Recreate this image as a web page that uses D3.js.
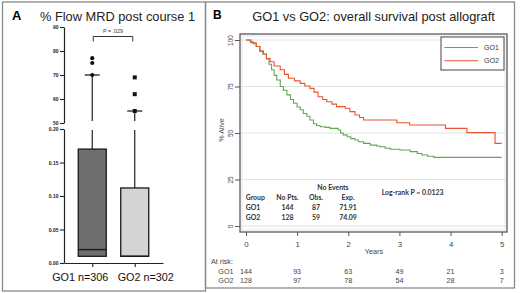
<!DOCTYPE html>
<html>
<head>
<script src="https://cdnjs.cloudflare.com/ajax/libs/d3/7.8.5/d3.min.js"></script>
<style>
  body { margin: 0; background: #fff; }
  svg { display: block; font-family: "Liberation Sans", Arial, sans-serif; }
  .tbl { font-family: Lato, "Open Sans", sans-serif; font-weight: 700; font-size: 6.9px; fill: #333; }
</style>
</head>
<body>
<svg id="chart" width="520" height="293"></svg>
<script>
// ---- Panel A data (box plot, broken y axis) ----
const boxCats = ['GO1 n=306', 'GO2 n=302'];
const boxQ1 = [0.01, 0.01];
const boxMed = [0.02, 0.01];
const boxQ3 = [0.17, 0.112];
const whiskerHi = [70, 55];
const outliers = [[70, 75, 77], [55, 62, 69]];
const boxFill = ['#6e6e6e', '#d4d4d4'];
const hiTicks = [50, 60, 70, 80, 90];
const loTicks = [0, 0.05, 0.10, 0.15, 0.20];

// ---- Panel B data (Kaplan-Meier) ----
const go1Time = [0, 0.08, 0.14, 0.2, 0.27, 0.33, 0.4, 0.45, 0.5, 0.55, 0.6, 0.67, 0.73, 0.8, 0.87, 0.93, 1.0, 1.06, 1.12, 1.19, 1.25, 1.32, 1.38, 1.45, 1.55, 1.64, 1.8, 1.85, 1.9, 1.98, 2.05, 2.13, 2.2, 2.3, 2.43, 2.56, 2.62, 2.72, 2.82, 3.01, 3.21, 3.35, 3.44, 3.55, 3.67, 5.0];
const go1Surv = [100, 99, 98, 96.5, 94, 92.5, 90, 87, 84, 81, 78.5, 75, 73, 70.5, 68, 66, 64, 62.5, 60.5, 59, 57, 55, 54, 53.4, 53, 52.5, 51.6, 50, 49, 48, 47, 46.2, 45.3, 44.4, 43.5, 43, 42.6, 41.8, 41.3, 40.9, 40, 39, 38.2, 37.5, 36.9, 36.9];
const go2Time = [0, 0.1, 0.2, 0.27, 0.34, 0.4, 0.47, 0.55, 0.67, 0.75, 0.83, 0.95, 1.06, 1.15, 1.25, 1.33, 1.41, 1.5, 1.58, 1.68, 1.77, 1.94, 2.03, 2.13, 2.22, 2.3, 2.95, 3.2, 3.9, 4.32, 4.87, 5.0];
const go2Surv = [100, 98.5, 96.5, 94, 92.3, 90, 88.3, 86, 84, 81.5, 79.4, 78, 76.7, 75.3, 74, 72, 69.5, 68, 66.8, 65.5, 64.2, 63.3, 61.5, 59.7, 58.3, 57, 55.5, 54.3, 52.5, 50.2, 44.4, 44.4];
const kmGroups = ['GO1', 'GO2'];
const kmColors = ['#67a35a', '#e8562e'];
const yearTicks = [0, 1, 2, 3, 4, 5];
const survTicks = [0, 25, 50, 75, 100];
const tblPts = [144, 128];
const tblObs = [87, 59];
const tblExp = ['71.91', '74.09'];
const riskGO1 = [144, 93, 63, 49, 21, 3];
const riskGO2 = [128, 97, 78, 54, 28, 7];

const svg = d3.select('#chart');
svg.append('rect').attr('width', 520).attr('height', 293).attr('fill', '#fff');

// panel borders
svg.append('rect').attr('x', 2.5).attr('y', 2).attr('width', 203).attr('height', 289)
  .attr('fill', 'none').attr('stroke', '#8a8a8a').attr('stroke-width', 1.3);
svg.append('rect').attr('x', 205.5).attr('y', 2).attr('width', 309).attr('height', 286)
  .attr('fill', 'none').attr('stroke', '#8a8a8a').attr('stroke-width', 1.3);

// ================= Panel A =================
const gA = svg.append('g');
gA.append('text').attr('x', 12).attr('y', 20).attr('font-weight', 700).attr('font-size', 13).text('A');
gA.append('text').attr('x', 117.5).attr('y', 21).attr('text-anchor', 'middle').attr('font-size', 12.8)
  .attr('fill', '#222').text('% Flow MRD post course 1');

const yHi = d3.scaleLinear().domain([50, 90]).range([123, 27]);
const yLo = d3.scaleLinear().domain([0, 0.2]).range([263, 129]);
const xA = d3.scalePoint().domain(boxCats).range([64, 163]).padding(0.665);

function styleAxisA(g) {
  g.select('.domain').attr('stroke', '#222').attr('stroke-width', 1.2);
  g.selectAll('.tick line').attr('stroke', '#222').attr('stroke-width', 1.1);
  g.selectAll('.tick text').attr('font-size', 5).attr('font-weight', 700).attr('fill', '#222');
}
gA.append('g').attr('transform', 'translate(64,0)')
  .call(d3.axisLeft(yHi).tickValues(hiTicks).tickSize(4).tickSizeOuter(0).tickPadding(1.5))
  .call(styleAxisA);
gA.append('g').attr('transform', 'translate(64,0)')
  .call(d3.axisLeft(yLo).tickValues(loTicks).tickSize(4).tickSizeOuter(0).tickPadding(1.5).tickFormat(d3.format('.2f')))
  .call(styleAxisA);
const xAxisA = gA.append('g').attr('transform', 'translate(0,263)')
  .call(d3.axisBottom(xA).tickSize(4).tickSizeOuter(0).tickFormat(''));
xAxisA.select('.domain').attr('stroke', '#222').attr('stroke-width', 1.2);
xAxisA.selectAll('.tick line').attr('stroke', '#222').attr('stroke-width', 1.1);
gA.selectAll('.catlab').data(boxCats).join('text')
  .attr('x', (d, i) => xA(d) + (i === 0 ? -12 : 11)).attr('y', 281)
  .attr('text-anchor', 'middle').attr('font-size', 10.8).attr('fill', '#111').text(d => d);

const boxW = 28;
boxCats.forEach((c, i) => {
  const cx = xA(c);
  // whisker: lower segment then upper segment across the break
  gA.append('line').attr('x1', cx).attr('x2', cx).attr('y1', yLo(boxQ3[i])).attr('y2', yLo(0.2) + 1)
    .attr('stroke', '#222').attr('stroke-width', 1.2);
  gA.append('line').attr('x1', cx).attr('x2', cx).attr('y1', yHi(50) - 2).attr('y2', yHi(whiskerHi[i]))
    .attr('stroke', '#222').attr('stroke-width', 1.2);
  gA.append('line').attr('x1', cx - 7.5).attr('x2', cx + 7.5).attr('y1', yHi(whiskerHi[i])).attr('y2', yHi(whiskerHi[i]))
    .attr('stroke', '#222').attr('stroke-width', 1.3);
  gA.append('rect').attr('x', cx - boxW / 2).attr('y', yLo(boxQ3[i]))
    .attr('width', boxW).attr('height', yLo(boxQ1[i]) - yLo(boxQ3[i]))
    .attr('fill', boxFill[i]).attr('stroke', '#1a1a1a').attr('stroke-width', 1.3);
  gA.append('line').attr('x1', cx - boxW / 2).attr('x2', cx + boxW / 2).attr('y1', yLo(boxMed[i])).attr('y2', yLo(boxMed[i]))
    .attr('stroke', '#1a1a1a').attr('stroke-width', 1.4);
  outliers[i].forEach(v => {
    if (i === 0) {
      gA.append('circle').attr('cx', cx).attr('cy', yHi(v)).attr('r', 2.1).attr('fill', '#111');
    } else {
      gA.append('rect').attr('x', cx - 2).attr('y', yHi(v) - 2).attr('width', 4).attr('height', 4).attr('fill', '#111');
    }
  });
});
// significance bracket
const bx1 = xA(boxCats[0]) + 1, bx2 = xA(boxCats[1]) - 2;
gA.append('path').attr('d', `M${bx1},41.5V36.5H${bx2}V41.5`).attr('fill', 'none').attr('stroke', '#333').attr('stroke-width', 1);
gA.append('text').attr('x', (bx1 + bx2) / 2).attr('y', 32.5).attr('text-anchor', 'middle')
  .attr('font-size', 5.3).attr('fill', '#333').text('P = .029');

// ================= Panel B =================
const gB = svg.append('g');
gB.append('text').attr('x', 213).attr('y', 19).attr('font-weight', 700).attr('font-size', 12).text('B');
gB.append('text').attr('x', 373.5).attr('y', 21).attr('text-anchor', 'middle').attr('font-size', 12.8)
  .attr('fill', '#222').text('GO1 vs GO2: overall survival post allograft');

const xB = d3.scaleLinear().domain([0, 5]).range([246, 501.7]);
const yB = d3.scaleLinear().domain([0, 100]).range([226, 40]);
const fx0 = 240, fx1 = 507, fy0 = 34, fy1 = 232;

gB.selectAll('.grid').data(survTicks).join('line')
  .attr('x1', fx0).attr('x2', fx1).attr('y1', d => yB(d)).attr('y2', d => yB(d))
  .attr('stroke', '#e2e2e2').attr('stroke-width', 1);
gB.append('rect').attr('x', fx0).attr('y', fy0).attr('width', fx1 - fx0).attr('height', fy1 - fy0)
  .attr('fill', 'none').attr('stroke', '#5a5a5a').attr('stroke-width', 1.3);
gB.append('rect').attr('x', fx0 + 2).attr('y', fy0 + 2).attr('width', fx1 - fx0 - 4).attr('height', fy1 - fy0 - 4)
  .attr('fill', 'none').attr('stroke', '#e6e6e6').attr('stroke-width', 1);

const yAxB = gB.append('g').attr('transform', `translate(${fx0},0)`)
  .call(d3.axisLeft(yB).tickValues(survTicks).tickSize(5).tickSizeOuter(0));
yAxB.select('.domain').remove();
yAxB.selectAll('.tick line').attr('stroke', '#555');
yAxB.selectAll('.tick text').attr('x', -9).attr('text-anchor', 'middle')
  .attr('font-size', 6.5).attr('fill', '#444')
  .attr('transform', 'rotate(-90,-9,0)').attr('dy', '0.35em');
gB.append('text').attr('transform', 'translate(224,130) rotate(-90)').attr('text-anchor', 'middle')
  .attr('font-size', 7.2).attr('fill', '#444').text('% Alive');

const xAxB = gB.append('g').attr('transform', `translate(0,${fy1})`)
  .call(d3.axisBottom(xB).tickValues(yearTicks).tickSize(4).tickSizeOuter(0).tickPadding(5).tickFormat(d3.format('d')));
xAxB.select('.domain').remove();
xAxB.selectAll('.tick line').attr('stroke', '#555');
xAxB.selectAll('.tick text').attr('font-size', 7.8).attr('fill', '#444');
gB.append('text').attr('x', 374).attr('y', 253.5).attr('text-anchor', 'middle')
  .attr('font-size', 7.3).attr('fill', '#444').text('Years');

const km = d3.line().x(d => xB(d[0])).y(d => yB(d[1])).curve(d3.curveStepAfter);
const kmData = [d3.zip(go1Time, go1Surv), d3.zip(go2Time, go2Surv)];
kmData.forEach((pts, i) => {
  gB.append('path').datum(pts).attr('d', km).attr('fill', 'none')
    .attr('stroke', kmColors[i]).attr('stroke-width', 1.1);
});

// legend
gB.append('rect').attr('x', 441).attr('y', 37).attr('width', 63).attr('height', 33)
  .attr('fill', '#fff').attr('stroke', '#555').attr('stroke-width', 1.1);
kmGroups.forEach((g, i) => {
  const ly = 47.5 + i * 13.3;
  gB.append('line').attr('x1', 444.5).attr('x2', 478).attr('y1', ly).attr('y2', ly)
    .attr('stroke', kmColors[i]).attr('stroke-width', 1.1);
  gB.append('text').attr('x', 484).attr('y', ly + 2.5).attr('font-size', 7).attr('fill', '#333').text(g);
});

// events table
gB.append('text').attr('class', 'tbl').attr('x', 333).attr('y', 190).attr('text-anchor', 'middle').text('No Events');
gB.append('text').attr('class', 'tbl').attr('x', 381.7).attr('y', 195).text('Log-rank P = 0.0123');
const colX = [245.7, 287.5, 316, 348];
const hdr = ['Group', 'No Pts.', 'Obs.', 'Exp.'];
hdr.forEach((h, j) => {
  gB.append('text').attr('class', 'tbl').attr('x', colX[j]).attr('y', 200)
    .attr('text-anchor', j === 0 ? 'start' : 'middle').text(h);
});
kmGroups.forEach((g, i) => {
  const row = [g, tblPts[i], tblObs[i], tblExp[i]];
  row.forEach((v, j) => {
    gB.append('text').attr('class', 'tbl').attr('x', colX[j]).attr('y', 210 + i * 10)
      .attr('text-anchor', j === 0 ? 'start' : 'middle').text(v);
  });
});

// numbers at risk
gB.append('text').attr('x', 211).attr('y', 264).attr('font-size', 7.2).attr('fill', '#444').text('At risk:');
[riskGO1, riskGO2].forEach((arr, i) => {
  const ry = 274 + i * 9.3;
  gB.append('text').attr('x', 218.3).attr('y', ry).attr('font-size', 7.2).attr('fill', '#444').text(kmGroups[i]);
  gB.selectAll('.risk' + i).data(arr).join('text')
    .attr('x', (d, k) => xB(yearTicks[k])).attr('y', ry).attr('text-anchor', 'middle')
    .attr('font-size', 7.2).attr('fill', '#444').text(d => d);
});
</script>
</body>
</html>
